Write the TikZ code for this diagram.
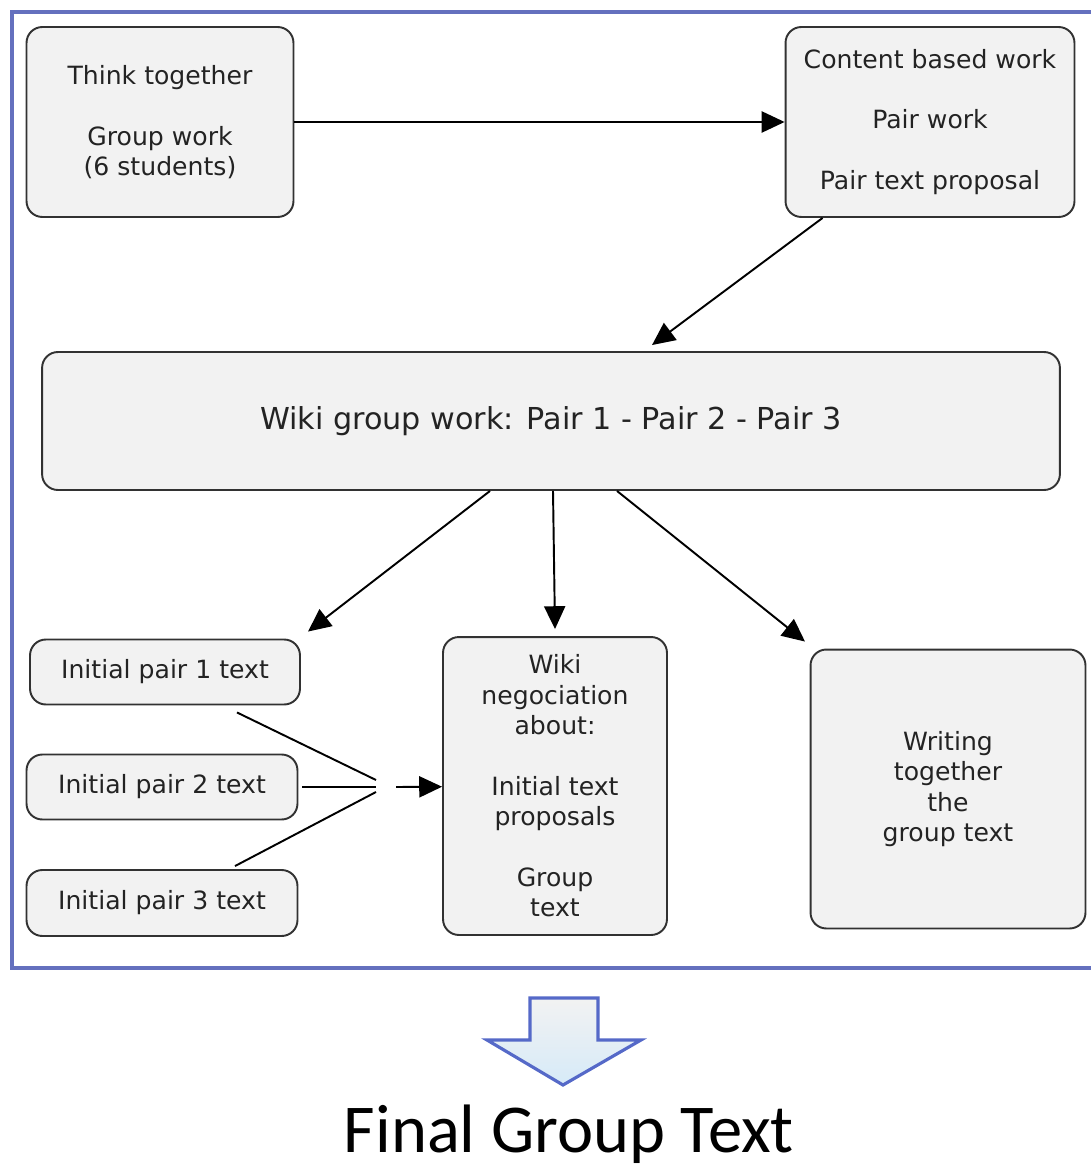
\documentclass[tikz,border=0pt]{standalone}
\usepackage{fontspec}
\setmainfont{DejaVu Sans}
\newfontfamily\titlefont{Carlito}
\usetikzlibrary{arrows.meta, positioning, calc}

\definecolor{boxgray}{RGB}{242,242,242}
\definecolor{boxline}{RGB}{50,50,50}
\definecolor{textgray}{RGB}{35,35,35}
\definecolor{framecol}{RGB}{100,112,190}
\definecolor{arrowline}{RGB}{85,105,200}
\definecolor{paleblue}{RGB}{214,234,248}

\tikzset{
  stage/.style={draw=boxline, fill=boxgray, line width=1.1pt, rounded corners=9pt,
    align=center, inner sep=0pt, text=textgray, font=\fontsize{14.3}{17.3}\selectfont},
  flow/.style={-{Triangle[length=13pt,width=12pt]}, line width=1.1pt},
  pairline/.style={line width=1.1pt}
}

\begin{document}
\begin{tikzpicture}[x=0.02cm,y=-0.02cm]
\useasboundingbox (0,0) rectangle (1091,1169);

% frame round the work
\draw[framecol, line width=2pt] (1095,12) -- (12,12) -- (12,968) -- (1095,968);

\node[stage, minimum width=5.34cm, minimum height=3.8cm] (think) at (160,122)
  {Think together\\[17.3pt] Group work\\(6 students)};
\node[stage, minimum width=5.78cm, minimum height=3.8cm] (content) at (930,122)
  {Content based work\\[17.3pt] Pair work\\[17.3pt] Pair text proposal};
\node[stage, minimum width=20.36cm, minimum height=2.76cm, font=\fontsize{17.2}{20}\selectfont] (wiki) at (551,421)
  {Wiki group work: Pair 1 - Pair 2 - Pair 3};

\node[stage, minimum width=5.4cm, minimum height=1.3cm] (init1) at (165,672) {Initial pair 1 text};
\node[stage, minimum width=5.42cm, minimum height=1.3cm] (init2) at (162,787) {Initial pair 2 text};
\node[stage, minimum width=5.42cm, minimum height=1.32cm] (init3) at (162,903) {Initial pair 3 text};

\node[stage, minimum width=4.48cm, minimum height=5.96cm] (nego) at (555,786)
  {Wiki\\negociation\\about:\\[17.3pt] Initial text\\proposals\\[17.3pt] Group\\text};
\node[stage, minimum width=5.5cm, minimum height=5.58cm] (write) at (948,789)
  {Writing\\together\\the\\group text};

\coordinate (meet1) at (376,780);
\coordinate (meet2) at (376,787);
\coordinate (meet3) at (376,792);
\coordinate (go) at (396,787);

% arrows
\draw[flow] (think) -- (content);
\draw[flow] ($(content.south west)+(38,0)$) -- ($(wiki.north)+(101,-6)$);
\draw[flow] ($(wiki.south)+(-61,0)$) -- ($(init1.north)+(143,-7)$);
\draw[flow] ($(wiki.south)+(2,0)$) -- ($(nego.north)+(0,-7)$);
\draw[flow] ($(wiki.south)+(66,0)$) -- ($(write.north)+(-143,-7)$);

% three pair texts meet
\draw[pairline] ($(init1.south)+(72,7)$) -- (meet1);
\draw[pairline] ($(init2.east)+(4,0)$) -- (meet2);
\draw[pairline] ($(init3.north)+(73,-3)$) -- (meet3);
\draw[flow] (go) -- (nego);

% block arrow down
\draw[arrowline, line width=1.8pt, top color=boxgray, bottom color=paleblue]
  (530,998) -- (598,998) -- (598,1040) -- (641,1040) -- (563,1085)
  -- (487,1040) -- (530,1040) -- cycle;

\node[font=\titlefont\fontsize{39}{44}\selectfont, inner sep=0pt] (final) at (569,1134) {Final Group Text};
\end{tikzpicture}
\end{document}
